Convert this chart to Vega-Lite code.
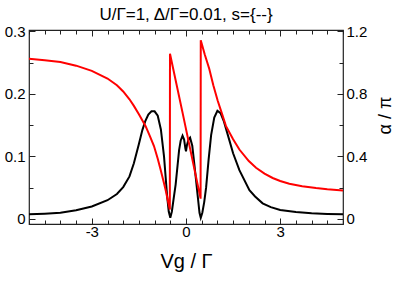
{
  "$schema": "https://vega.github.io/schema/vega-lite/v6.json",
  "width": 314,
  "height": 194,
  "autosize": "none",
  "padding": {"left": 29, "top": 30, "right": 52, "bottom": 60},
  "background": "white",
  "config": {
    "font": "Liberation Sans",
    "view": {"stroke": "#222", "strokeWidth": 1.2},
    "axis": {"grid": false, "domain": false, "tickColor": "#222", "labelColor": "black", "titleColor": "black", "labelFontSize": 15, "labelFont": "Liberation Sans", "titleFont": "Liberation Sans", "titleFontWeight": "normal"}
  },
  "title": {"text": "U/Γ=1, Δ/Γ=0.01, s={--}", "fontSize": 17, "fontWeight": "normal", "font": "Liberation Sans", "offset": 0, "color": "black"},
  "datasets": {
    "g": [
      {"x": -5, "v": 0.0075}, {"x": -4.5, "v": 0.0085}, {"x": -4, "v": 0.010}, {"x": -3.5, "v": 0.014},
      {"x": -3, "v": 0.020}, {"x": -2.5, "v": 0.030}, {"x": -2.2, "v": 0.040}, {"x": -2.0, "v": 0.051},
      {"x": -1.8, "v": 0.068}, {"x": -1.66, "v": 0.089}, {"x": -1.5, "v": 0.120}, {"x": -1.39, "v": 0.142},
      {"x": -1.3, "v": 0.156}, {"x": -1.2, "v": 0.167}, {"x": -1.1, "v": 0.172}, {"x": -1.0, "v": 0.172},
      {"x": -0.9, "v": 0.165}, {"x": -0.8, "v": 0.143}, {"x": -0.7, "v": 0.100}, {"x": -0.6, "v": 0.036},
      {"x": -0.55, "v": 0.012}, {"x": -0.5, "v": 0.002}, {"x": -0.45, "v": 0.012}, {"x": -0.4, "v": 0.030},
      {"x": -0.33, "v": 0.055}, {"x": -0.27, "v": 0.085}, {"x": -0.22, "v": 0.110}, {"x": -0.17, "v": 0.125},
      {"x": -0.11, "v": 0.133}, {"x": -0.06, "v": 0.127}, {"x": -0.02, "v": 0.113}, {"x": 0.0, "v": 0.108},
      {"x": 0.03, "v": 0.118}, {"x": 0.08, "v": 0.127}, {"x": 0.13, "v": 0.130}, {"x": 0.2, "v": 0.117},
      {"x": 0.26, "v": 0.090}, {"x": 0.32, "v": 0.062}, {"x": 0.37, "v": 0.038}, {"x": 0.43, "v": 0.010},
      {"x": 0.47, "v": 0.002}, {"x": 0.52, "v": 0.010}, {"x": 0.58, "v": 0.027}, {"x": 0.64, "v": 0.050},
      {"x": 0.72, "v": 0.095}, {"x": 0.8, "v": 0.134}, {"x": 0.9, "v": 0.162}, {"x": 1.0, "v": 0.173},
      {"x": 1.1, "v": 0.169}, {"x": 1.2, "v": 0.157}, {"x": 1.38, "v": 0.126}, {"x": 1.5, "v": 0.105},
      {"x": 1.7, "v": 0.078}, {"x": 2.02, "v": 0.046}, {"x": 2.2, "v": 0.036}, {"x": 2.44, "v": 0.025},
      {"x": 2.7, "v": 0.019}, {"x": 3.0, "v": 0.0145}, {"x": 3.5, "v": 0.011}, {"x": 4.0, "v": 0.009},
      {"x": 4.5, "v": 0.008}, {"x": 5.0, "v": 0.0075}
    ],
    "a": [
      {"x": -5, "v": 1.024}, {"x": -4.5, "v": 1.014}, {"x": -4, "v": 1.003}, {"x": -3.5, "v": 0.98},
      {"x": -3, "v": 0.947}, {"x": -2.5, "v": 0.898}, {"x": -2.2, "v": 0.855}, {"x": -2.0, "v": 0.815},
      {"x": -1.8, "v": 0.765}, {"x": -1.66, "v": 0.723}, {"x": -1.5, "v": 0.67}, {"x": -1.29, "v": 0.595},
      {"x": -1.15, "v": 0.53}, {"x": -1.02, "v": 0.466}, {"x": -0.9, "v": 0.385}, {"x": -0.81, "v": 0.316},
      {"x": -0.72, "v": 0.245}, {"x": -0.65, "v": 0.187}, {"x": -0.58, "v": 0.12}, {"x": -0.515, "v": 0.06},
      {"x": -0.51, "v": 1.056}, {"x": -0.11, "v": 0.68}, {"x": 0.465, "v": 0.13}, {"x": 0.47, "v": 1.142},
      {"x": 0.6, "v": 1.05}, {"x": 0.74, "v": 0.96}, {"x": 0.87, "v": 0.855}, {"x": 1.01, "v": 0.756},
      {"x": 1.15, "v": 0.67}, {"x": 1.27, "v": 0.595}, {"x": 1.5, "v": 0.51}, {"x": 1.7, "v": 0.444},
      {"x": 2.0, "v": 0.37}, {"x": 2.23, "v": 0.327}, {"x": 2.5, "v": 0.29}, {"x": 2.76, "v": 0.262},
      {"x": 3.0, "v": 0.243}, {"x": 3.29, "v": 0.225}, {"x": 3.7, "v": 0.21}, {"x": 4.14, "v": 0.198},
      {"x": 4.5, "v": 0.19}, {"x": 5.0, "v": 0.182}
    ]
  },
  "layer": [
    {
      "data": {"name": "g"},
      "mark": {"type": "line", "color": "black", "strokeWidth": 2, "clip": true},
      "encoding": {
        "x": {
          "field": "x", "type": "quantitative",
          "scale": {"domain": [-5, 5], "nice": false, "zero": false},
          "axis": {
            "orient": "bottom", "title": "Vg / Γ", "titleFontSize": 20, "titlePadding": 12,
            "values": [-5, -4.5, -4, -3.5, -3, -2.5, -2, -1.5, -1, -0.5, 0, 0.5, 1, 1.5, 2, 2.5, 3, 3.5, 4, 4.5, 5],
            "labelExpr": "datum.value == -3 ? '-3' : datum.value == 0 ? '0' : datum.value == 3 ? '3' : ''",
            "tickSize": {"condition": {"test": "datum.value == -3 || datum.value == 0 || datum.value == 3", "value": -6}, "value": -4},
            "labelPadding": 6, "labelFlush": false
          }
        },
        "y": {
          "field": "v", "type": "quantitative",
          "scale": {"domain": [-0.008, 0.302], "nice": false, "zero": false},
          "axis": {
            "orient": "left", "title": null,
            "values": [0, 0.05, 0.1, 0.15, 0.2, 0.25, 0.3],
            "labelExpr": "datum.value == 0 ? '0' : datum.value == 0.1 ? '0.1' : datum.value == 0.2 ? '0.2' : datum.value == 0.3 ? '0.3' : ''",
            "tickSize": {"condition": {"test": "datum.value == 0 || datum.value == 0.1 || datum.value == 0.2 || datum.value == 0.3", "value": -6}, "value": -4},
            "labelPadding": 10, "labelFlush": false
          }
        }
      }
    },
    {
      "data": {"name": "a"},
      "mark": {"type": "line", "color": "#ff0000", "strokeWidth": 2, "clip": true},
      "encoding": {
        "x": {
          "field": "x", "type": "quantitative",
          "scale": {"domain": [-5, 5], "nice": false, "zero": false},
          "axis": {
            "orient": "top", "title": null, "labels": false,
            "values": [-5, -4.5, -4, -3.5, -3, -2.5, -2, -1.5, -1, -0.5, 0, 0.5, 1, 1.5, 2, 2.5, 3, 3.5, 4, 4.5, 5],
            "tickSize": {"condition": {"test": "datum.value == -3 || datum.value == 0 || datum.value == 3", "value": -6}, "value": -4}
          }
        },
        "y": {
          "field": "v", "type": "quantitative",
          "scale": {"domain": [-0.032, 1.208], "nice": false, "zero": false},
          "axis": {
            "orient": "right", "title": "α / π", "titleFontSize": 18, "titleAngle": -90,
            "titleX": 42, "titleY": 85, "titleAlign": "center", "titleBaseline": "middle",
            "values": [0, 0.2, 0.4, 0.6, 0.8, 1, 1.2],
            "labelExpr": "datum.value == 0 ? '0' : datum.value == 0.4 ? '0.4' : datum.value == 0.8 ? '0.8' : datum.value == 1.2 ? '1.2' : ''",
            "tickSize": {"condition": {"test": "datum.value == 0 || datum.value == 0.4 || datum.value == 0.8 || datum.value == 1.2", "value": -6}, "value": -4},
            "labelPadding": 9, "labelFlush": false
          }
        }
      }
    }
  ],
  "resolve": {"scale": {"y": "independent"}, "axis": {"x": "independent", "y": "independent"}}
}
